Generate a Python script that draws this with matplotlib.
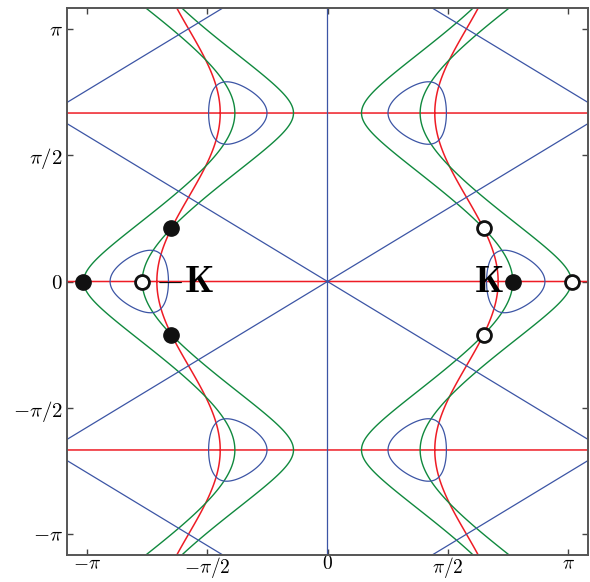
import numpy as np
import matplotlib
matplotlib.use('Agg')
import matplotlib.pyplot as plt

plt.rcParams['mathtext.fontset'] = 'cm'
plt.rcParams['font.family'] = 'DejaVu Serif'

# parameters
alpha = 0.854      # satellite points sit where |f| = alpha
loop_f = 0.55      # blue loops around the K points: |f| = loop_f
kmax = 3.4

# Dirac points (filled / open)
filled_kx = [-3.19, -2.04, -2.04, 2.418]
filled_ky = [0.0, 0.665, -0.665, 0.0]
open_kx = [-2.418, 2.04, 2.04, 3.185]
open_ky = [0.0, 0.665, -0.665, 0.0]

tick_vals = [-np.pi, -np.pi / 2, 0, np.pi / 2, np.pi]
tick_labels = [r'$-\pi$', r'$-\pi/2$', r'$0$', r'$\pi/2$', r'$\pi$']

blue = '#3c55a5'
red = '#ee1c25'
green = '#10893e'

# grid (even count so the lines kx=0 / ky=0 fall between nodes)
kx = np.linspace(-kmax, kmax, 1400)
ky = np.linspace(-kmax, kmax, 1400)
KX, KY = np.meshgrid(kx, ky)
u = np.sqrt(3) * KX / 2
v = 1.5 * KY

f = np.exp(1j * KY) + 2 * np.exp(-0.5j * KY) * np.cos(u)
d = np.exp(1j * KY) * (f ** 2 + alpha * np.conj(f))
haldane = np.sin(2 * u) + np.sin(v - u) + np.sin(-u - v)

fig = plt.figure(figsize=(5.9, 5.82), dpi=100)
ax = fig.add_axes([67 / 590, 1 - 555 / 582, 521 / 590, 547 / 582])

ax.contour(KX, KY, d.imag, levels=[0], colors=red, linewidths=1.1)
ax.contour(KX, KY, d.real, levels=[0], colors=green, linewidths=1.0)
ax.contour(KX, KY, haldane, levels=[0], colors=blue, linewidths=0.9)
ax.contour(KX, KY, np.abs(f), levels=[loop_f], colors=blue, linewidths=0.9)

ax.plot(filled_kx, filled_ky, 'o', ms=11, mfc='#111111', mec='#111111', zorder=5)
ax.plot(open_kx, open_ky, 'o', ms=10, mfc='white', mec='#111111', mew=2.0, zorder=5)

ax.text(2.3, 0.0, r'$\mathbf{K}$', fontsize=27, ha='right', va='center', zorder=6)
ax.text(-2.25, 0.0, r'$-\mathbf{K}$', fontsize=27, ha='left', va='center', zorder=6)

ax.set_xlim(-kmax, kmax)
ax.set_ylim(-kmax, kmax)
ax.set_xticks(tick_vals)
ax.set_xticklabels(tick_labels)
ax.set_yticks(tick_vals)
ax.set_yticklabels(tick_labels)
ax.tick_params(direction='in', top=True, right=True, length=4, width=1.0,
               labelsize=15, pad=3, color='#444444')
ax.tick_params(axis='x', pad=0, labelsize=14)
for s in ax.spines.values():
    s.set_linewidth(1.4)
    s.set_color('#555555')

plt.savefig('out.png', dpi=100)
